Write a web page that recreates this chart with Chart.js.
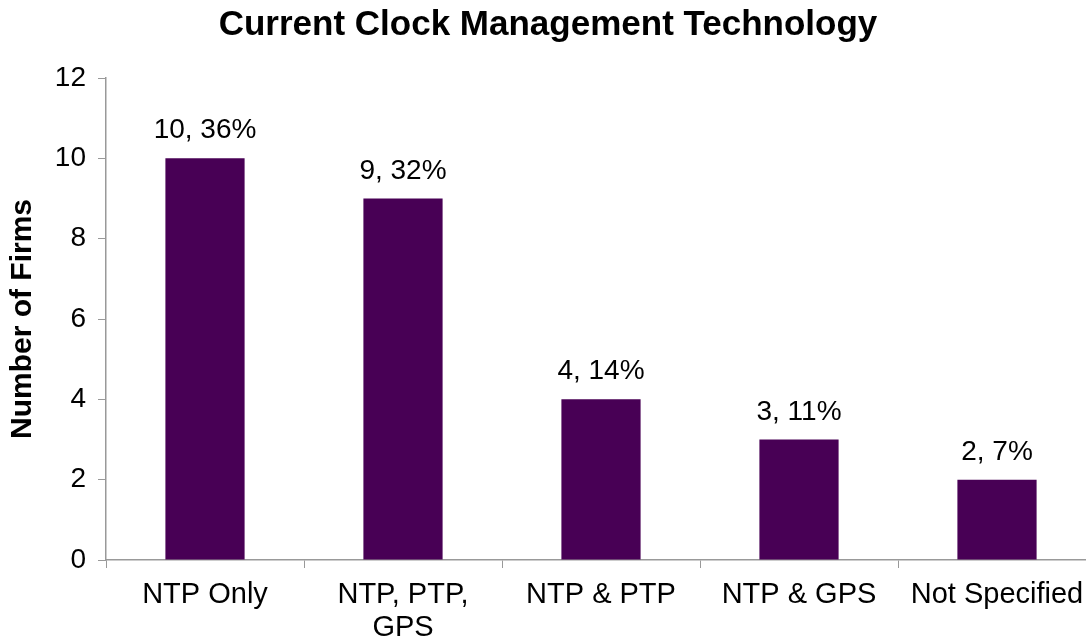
<!DOCTYPE html>
<html>
<head>
<meta charset="utf-8">
<script src="https://cdn.jsdelivr.net/npm/chart.js@4/dist/chart.umd.min.js"></script>
<style>
    html, body { margin: 0; padding: 0; background: #fff; overflow: hidden; }
    #wrap { width: 1100px; height: 643px; position: relative; }
</style>
</head>
<body>
<div id="wrap"><canvas id="clockChart"></canvas></div>
<script>
// Data
const categories = ["NTP Only", ["NTP, PTP,", "GPS"], "NTP & PTP", "NTP & GPS", "Not Specified"];
const firmCounts = [10, 9, 4, 3, 2];
const firmShares = [36, 32, 14, 11, 7];
const yTicks = [0, 2, 4, 6, 8, 10, 12];

const font = "'Liberation Sans', Arial, sans-serif";
const axisGrey = '#999999';

// value labels above each bar, e.g. "10, 36%"
const barLabels = {
    id: 'barLabels',
    afterDatasetsDraw(chart) {
        const ctx = chart.ctx;
        const meta = chart.getDatasetMeta(0);
        ctx.save();
        ctx.font = '28px ' + font;
        ctx.fillStyle = '#000';
        ctx.textAlign = 'center';
        ctx.textBaseline = 'alphabetic';
        meta.data.forEach((bar, i) => {
            ctx.fillText(firmCounts[i] + ', ' + firmShares[i] + '%', bar.x, bar.y - 20);
        });
        ctx.restore();
    }
};

const ctx = document.getElementById('clockChart').getContext('2d');
new Chart(ctx, {
    type: 'bar',
    data: {
        labels: categories,
        datasets: [{
            label: 'Number of Firms',
            data: firmCounts,
            backgroundColor: '#480055',
            borderWidth: 0,
            barPercentage: 0.4,
            categoryPercentage: 1
        }]
    },
    options: {
        responsive: true,
        maintainAspectRatio: false,
        animation: false,
        layout: { padding: { left: 0, right: 4, top: 0, bottom: 0 } },
        plugins: {
            legend: { display: false },
            tooltip: { enabled: false },
            title: {
                display: true,
                text: 'Current Clock Management Technology',
                color: '#000',
                font: { family: font, size: 35, weight: 'bold' },
                padding: { top: 4, bottom: 32 }
            }
        },
        scales: {
            x: {
                offset: true,
                grid: { display: true, offset: true, drawOnChartArea: false, color: axisGrey, tickLength: 8 },
                border: { color: axisGrey, width: 1.5 },
                ticks: { color: '#000', padding: 11, maxRotation: 0, autoSkip: false, font: { family: font, size: 29, lineHeight: 1.12 } },
                afterFit: s => { s.height = 83; }
            },
            y: {
                min: 0,
                max: 12,
                afterBuildTicks: s => { s.ticks = yTicks.map(v => ({ value: v })); },
                grid: { display: true, drawOnChartArea: false, color: axisGrey, tickLength: 8 },
                border: { color: axisGrey, width: 1.5 },
                ticks: { color: '#000', padding: 12, font: { family: font, size: 28 } },
                title: {
                    display: true,
                    text: 'Number of Firms',
                    color: '#000',
                    font: { family: font, size: 30, weight: 'bold' },
                    padding: { top: 5, bottom: 0 }
                },
                afterFit: s => { s.width = 106; }
            }
        }
    },
    plugins: [barLabels]
});
</script>
</body>
</html>
